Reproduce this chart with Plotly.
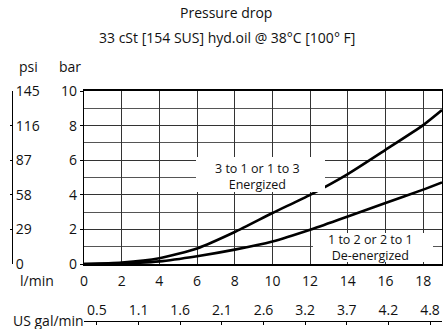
import plotly.graph_objects as go

# Flow (l/min) and pressure drop (bar)
flow_lpm = [0, 2, 4, 6, 8, 10, 12, 14, 16, 18, 19]
dp_energized = [0, 0.08, 0.33, 0.9, 1.85, 2.95, 4.0, 5.2, 6.6, 8.03, 8.9]
dp_deenergized = [0, 0.03, 0.15, 0.45, 0.83, 1.3, 1.98, 2.75, 3.52, 4.3, 4.72]

# Axis ticks
lpm_ticks = [0, 2, 4, 6, 8, 10, 12, 14, 16, 18]
bar_ticks = [0, 2, 4, 6, 8, 10]
psi_ticks = [0, 29, 58, 87, 116, 145]
gal_positions = [2, 4, 6, 8, 10, 12, 14, 16, 18]
gal_labels = ["0.5", "1.1", "1.6", "2.1", "2.6", "3.2", "3.7", "4.2", "4.8"]

W, H = 448, 329
ML, MR, MT, MB = 10, 6, 91, 4
PW, PH = W - ML - MR, H - MT - MB


def px_x(px):
    return (px - ML) / PW


def px_y(py):
    return (H - MB - py) / PH


FONT = "Open Sans"
FS = 14
TXT = "#111111"
y_dom = [px_y(264), 1]
x_dom = [px_x(84), 1]
lpm_per_px = 19 / (442 - 84)

fig = go.Figure()
line_style = dict(color="black", width=2.6, shape="spline", smoothing=0.6)
fig.add_trace(go.Scatter(x=flow_lpm, y=dp_energized, mode="lines",
                         line=line_style, showlegend=False, hoverinfo="skip"))
fig.add_trace(go.Scatter(x=flow_lpm, y=dp_deenergized, mode="lines",
                         line=line_style, showlegend=False, hoverinfo="skip"))

grid_col = "#333333"
fig.update_layout(
    width=W, height=H,
    margin=dict(l=ML, r=MR, t=MT, b=MB, autoexpand=False),
    paper_bgcolor="white", plot_bgcolor="white",
    font=dict(family=FONT, size=FS, color=TXT),
    xaxis=dict(domain=x_dom, range=[0, 19], tickvals=lpm_ticks,
               showgrid=True, gridcolor=grid_col, gridwidth=1,
               showline=True, linecolor="black", linewidth=2, mirror=True,
               ticks="", ticklabelstandoff=3, zeroline=False, automargin=False,
               anchor="y"),
    yaxis=dict(domain=y_dom, range=[0, 10], tickvals=bar_ticks,
               showgrid=True, gridcolor=grid_col, gridwidth=1,
               minor=dict(dtick=1, showgrid=True, gridcolor="#555555", gridwidth=1),
               showline=True, linecolor="black", linewidth=1.2, mirror=True,
               ticks="outside", ticklen=3, tickcolor="black",
               zeroline=False, automargin=False, anchor="x"),
    yaxis3=dict(domain=y_dom, range=[0, 145], tickvals=psi_ticks,
                overlaying="y", anchor="free", position=px_x(12), side="right",
                showline=True, linecolor="black", linewidth=1,
                ticks="inside", ticklen=2, tickcolor="black",
                showgrid=False, zeroline=False, automargin=False),
    xaxis2=dict(domain=[px_x(110), px_x(434)],
                range=[(110 - 84) * lpm_per_px, (434 - 84) * lpm_per_px],
                tickvals=gal_positions, ticktext=gal_labels,
                anchor="free", position=px_y(321), side="top", overlaying="x",
                showline=True, linecolor="black", linewidth=1,
                ticks="inside", ticklen=3, tickcolor="black",
                showgrid=False, zeroline=False, automargin=False),
)
# an invisible trace to activate the secondary axes
fig.add_trace(go.Scatter(x=[None], y=[None], xaxis="x2", yaxis="y3",
                         showlegend=False, hoverinfo="skip"))

annotations = [
    dict(text="Pressure drop", x=px_x(226), y=px_y(12)),
    dict(text="33 cSt [154 SUS] hyd.oil @ 38°C [100° F]", x=px_x(227), y=px_y(38)),
    dict(text="psi", x=px_x(28), y=px_y(67)),
    dict(text="bar", x=px_x(70), y=px_y(67)),
    dict(text="l/min", x=px_x(37), y=px_y(280)),
    dict(text="US gal/min", x=px_x(48), y=px_y(320)),
]
for a in annotations:
    fig.add_annotation(xref="paper", yref="paper", showarrow=False,
                       xanchor="center", yanchor="middle",
                       font=dict(size=FS, family=FONT, color=TXT), **a)

# white label boxes over the grid
label_boxes = [
    dict(x0=196, x1=325, y0=157, y1=192, cx=257, cy=176,
         text="3 to 1 or 1 to 3<br>Energized"),
    dict(x0=313, x1=433, y0=233, y1=262, cx=370, cy=247,
         text="1 to 2 or 2 to 1<br>De-energized"),
]
for b in label_boxes:
    fig.add_shape(type="rect", xref="paper", yref="paper",
                  x0=px_x(b["x0"]), x1=px_x(b["x1"]),
                  y0=px_y(b["y1"]), y1=px_y(b["y0"]),
                  fillcolor="white", line=dict(width=0), layer="above")
    fig.add_annotation(xref="paper", yref="paper", showarrow=False,
                       x=px_x(b["cx"]), y=px_y(b["cy"]), text=b["text"],
                       xanchor="center", yanchor="middle", align="center",
                       font=dict(size=12.5, family=FONT, color=TXT))

fig.write_html("out.html")
